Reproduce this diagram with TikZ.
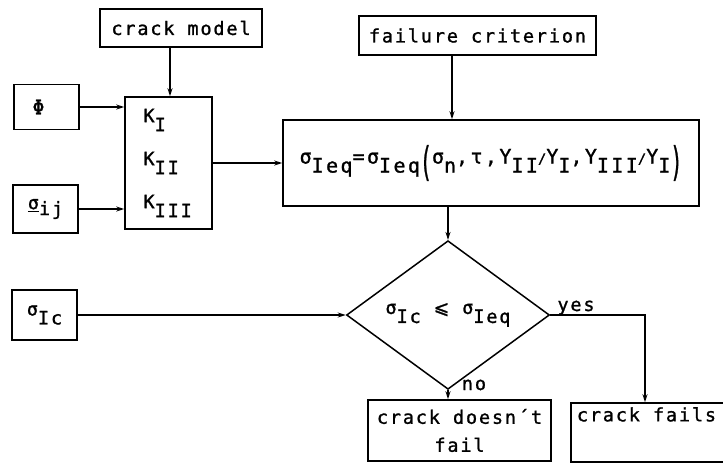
\documentclass[tikz,border=0pt]{standalone}
\usepackage{fontspec}
\usetikzlibrary{shapes.geometric,arrows.meta}
\newfontfamily\pf[LetterSpace=10,FakeBold=1.2]{DejaVu Sans Mono}
\newfontfamily\pfw[LetterSpace=12,FakeBold=1.2]{DejaVu Sans Mono}
\newfontfamily\pfs[FakeBold=1.2]{DejaVu Sans}
\newcommand\dn[1]{\raisebox{-9pt}{#1}}
\newcommand\bigpar[1]{\raisebox{-12pt}{\scalebox{1}[2]{#1}}}
\newcommand\slsh{{\fontsize{14}{14}\selectfont /}}
\begin{document}
\begin{tikzpicture}[x=1pt,y=-1pt,
  box/.style={draw, line width=1.5pt, rectangle, inner sep=0pt, font=\pf\fontsize{18.5}{28}\selectfont, align=center},
  arr/.style={line width=1.5pt, -{Stealth[length=8pt,width=5pt]}},
  lbl/.style={font=\pf\fontsize{18.5}{22}\selectfont, inner sep=0pt}]
\useasboundingbox (0,0) rectangle (723,466);
\coordinate (kx) at (170,0);
\coordinate (fx) at (452,0);
\coordinate (yx) at (645,0);

\node[box, minimum width=162pt, minimum height=38pt] (cm) at (181,28) {crack model};
\node[box, minimum width=65pt, minimum height=45pt] (phi) at (46.5,107) {\raisebox{-3pt}{\fontsize{20}{20}\selectfont Φ}\hspace{16pt}};
\node[box, minimum width=65pt, minimum height=48pt] (sij) at (45.5,209) {\raisebox{6pt}{\underline{σ}}ij};
\node[box, minimum width=87pt, minimum height=132pt, text width=50pt, align=left, font=\pf\fontsize{18.5}{43}\selectfont] (K) at (168.5,163) {K\dn{I}\\K\dn{II}\\K\dn{III}};
\node[box, minimum width=237pt, minimum height=39pt] (fc) at (477.5,35.5) {failure criterion};
\node[box, minimum width=416pt, minimum height=86pt, font=\pfw\fontsize{20}{22}\selectfont] (big) at (491,163) {σ\dn{Ieq}=σ\dn{Ieq}\bigpar{(}σ\dn{n},τ,Y\dn{II}\slsh Y\dn{I},Y\dn{III}\slsh Y\dn{I}\bigpar{)}};
\node[draw, diamond, line width=1.5pt, minimum width=203pt, minimum height=100pt, inner sep=0pt, font=\pf\fontsize{18.5}{22}\selectfont] (dia) at (448,315) {σ\dn{Ic} {\pfs ⩽} σ\dn{Ieq}};
\node[box, minimum width=65pt, minimum height=50pt] (sIc) at (44.5,315) {σ\dn{Ic}};
\node[box, minimum width=183pt, minimum height=61pt] (cdf) at (459.5,430.5) {crack doesn´t\\fail};
\node[box, minimum width=169pt, minimum height=59pt] (cf) at (655.5,432.5) {crack fails\hspace*{18pt}\\\strut};

\draw[arr] (cm.south -| kx) -- (K.north -| kx);
\draw[arr] (phi.east) -- (phi.east -| K.west);
\draw[arr] (sij.east) -- (sij.east -| K.west);
\draw[arr] (K.east) -- (big.west);
\draw[arr] (fc.south -| fx) -- (big.north -| fx);
\draw[arr] (big.south -| dia.north) -- (dia.north);
\draw[arr] (sIc.east) -- (dia.west);
\draw[arr] (dia.south) -- (dia.south |- cdf.north);
\draw[arr] (dia.east) -| (cf.north -| yx);
\node[lbl, anchor=base] (yes) at (576,311) {yes};
\node[lbl, anchor=base] (no) at (474,390) {no};
\end{tikzpicture}
\end{document}
